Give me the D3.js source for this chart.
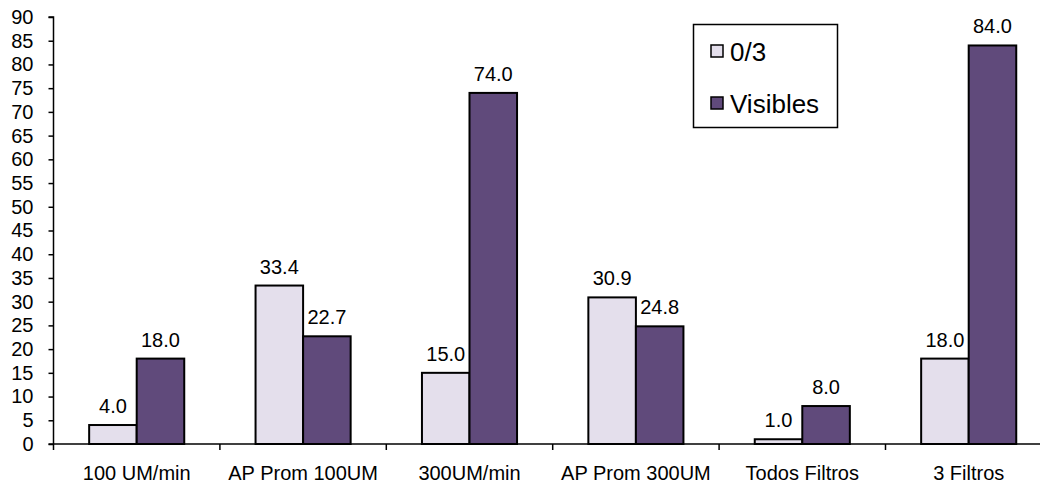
<!DOCTYPE html>
<html>
<head>
<meta charset="utf-8">
<script src="https://cdn.jsdelivr.net/npm/d3@7"></script>
<style>
  html, body { margin: 0; padding: 0; background: #fff; }
  svg { display: block; font-family: "Liberation Sans", Arial, sans-serif; }
</style>
</head>
<body>
<svg id="chart" width="1040" height="492"></svg>
<script>
// Categories and series values
const categories = ["100 UM/min", "AP Prom 100UM", "300UM/min", "AP Prom 300UM", "Todos Filtros", "3 Filtros"];
const seriesNames = ["0/3", "Visibles"];
const values03 = [4.0, 33.4, 15.0, 30.9, 1.0, 18.0];
const valuesVisibles = [18.0, 22.7, 74.0, 24.8, 8.0, 84.0];
const yTicks = [0, 5, 10, 15, 20, 25, 30, 35, 40, 45, 50, 55, 60, 65, 70, 75, 80, 85, 90];

const colors = { "0/3": "#E4DFEC", "Visibles": "#604A7B" };

const svg = d3.select("#chart");

const plotLeft = 53.5, plotBottom = 444, plotTop = 17;
const bandW = 166.4;
const fontSize = 20;

const x = d3.scaleBand()
  .domain(categories)
  .range([plotLeft, plotLeft + bandW * categories.length])
  .paddingInner(0).paddingOuter(0);

const x1 = d3.scaleBand()
  .domain(seriesNames)
  .range([0, x.bandwidth()])
  .paddingInner(0).paddingOuter(0.75);

const y = d3.scaleLinear().domain([0, 90]).range([plotBottom, plotTop]);

const rows = categories.map((c, i) => ({
  cat: c,
  vals: [{ s: "0/3", v: values03[i] }, { s: "Visibles", v: valuesVisibles[i] }]
}));

// Bars
const groups = svg.append("g").selectAll("g")
  .data(rows).join("g")
  .attr("transform", d => `translate(${x(d.cat)},0)`);

groups.selectAll("rect")
  .data(d => d.vals).join("rect")
  .attr("x", d => x1(d.s))
  .attr("y", d => y(d.v))
  .attr("width", x1.bandwidth())
  .attr("height", d => y(0) - y(d.v))
  .attr("fill", d => colors[d.s])
  .attr("stroke", "#000")
  .attr("stroke-width", 2);

// Value labels
groups.selectAll("text")
  .data(d => d.vals).join("text")
  .attr("x", d => x1(d.s) + x1.bandwidth() / 2)
  .attr("y", d => y(d.v) - 12)
  .attr("text-anchor", "middle")
  .attr("font-size", fontSize)
  .attr("fill", "#000")
  .text(d => d.v.toFixed(1));

// Y axis
const yAxis = d3.axisLeft(y).tickValues(yTicks).tickSize(5).tickPadding(15);
const gy = svg.append("g").attr("transform", `translate(${plotLeft},0)`).call(yAxis);
gy.select(".domain").attr("stroke", "#000").attr("stroke-width", 1.5).attr("d", `M-5,${plotTop}H0V${plotBottom}`);
gy.selectAll(".tick line").attr("stroke", "#000").attr("stroke-width", 1.5);
gy.selectAll(".tick text").attr("font-size", fontSize).attr("font-family", "Liberation Sans, Arial, sans-serif").attr("fill", "#000");

// X axis with ticks between categories
const xAxis = d3.axisBottom(x).tickSize(0).tickPadding(22);
const gx = svg.append("g").attr("transform", `translate(0,${plotBottom})`).call(xAxis);
gx.select(".domain").attr("stroke", "#000").attr("stroke-width", 1.5)
  .attr("d", `M${plotLeft - 5},0H${x.range()[1]}`);
gx.selectAll(".tick text").attr("font-size", fontSize).attr("font-family", "Liberation Sans, Arial, sans-serif").attr("fill", "#000");
gx.selectAll(".sep")
  .data(d3.range(categories.length + 1)).join("line")
  .attr("class", "sep")
  .attr("x1", i => x.range()[0] + i * x.step())
  .attr("x2", i => x.range()[0] + i * x.step())
  .attr("y1", 0).attr("y2", 6)
  .attr("stroke", "#000").attr("stroke-width", 1.5);

// Legend
const legend = svg.append("g");
legend.append("rect")
  .attr("x", 693.5).attr("y", 24.5).attr("width", 144).attr("height", 103)
  .attr("fill", "#fff").attr("stroke", "#000").attr("stroke-width", 1.5);
const items = legend.selectAll("g.item").data(seriesNames).join("g")
  .attr("class", "item")
  .attr("transform", (d, i) => `translate(711,${45 + i * 52})`);
items.append("rect")
  .attr("width", 12).attr("height", 12)
  .attr("fill", d => colors[d]).attr("stroke", "#000").attr("stroke-width", 1.5);
items.append("text")
  .attr("x", 19).attr("y", 16)
  .attr("font-size", 26).attr("fill", "#000")
  .text(d => d);
</script>
</body>
</html>
